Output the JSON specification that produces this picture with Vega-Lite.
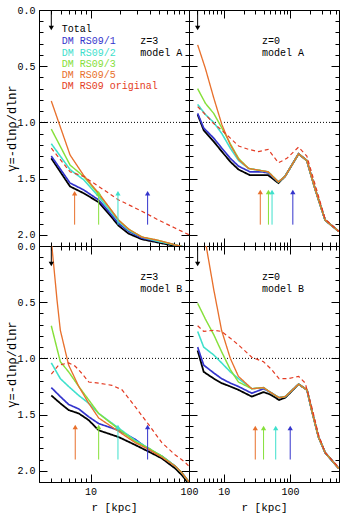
{
  "$schema": "https://vega.github.io/schema/vega-lite/v6.json",
  "background": "white",
  "padding": {"left": 4, "top": 4, "right": 3, "bottom": 5},
  "columns": 2,
  "spacing": 0,
  "bounds": "flush",
  "config": {
    "view": {"stroke": "#000", "strokeWidth": 1},
    "axis": {
      "domain": false, "grid": false, "tickColor": "#000", "tickWidth": 1,
      "labelFont": "Liberation Mono", "labelFontSize": 10, "labelColor": "#000",
      "labelPadding": 12, "labelFlush": false, "labelOverlap": false, "labelBound": false,
      "titleFont": "Liberation Mono", "titleFontSize": 11, "titleFontWeight": "normal", "titleColor": "#000"
    }
  },
  "datasets": {
    "curves": [
      {"panel": "A3", "series": "Total", "r": 4.0, "g": 1.32}, {"panel": "A3", "series": "Total", "r": 6.2, "g": 1.57}, {"panel": "A3", "series": "Total", "r": 8.5, "g": 1.63}, {"panel": "A3", "series": "Total", "r": 12.1, "g": 1.71}, {"panel": "A3", "series": "Total", "r": 15.9, "g": 1.83}, {"panel": "A3", "series": "Total", "r": 19.3, "g": 1.92}, {"panel": "A3", "series": "Total", "r": 24.4, "g": 1.99}, {"panel": "A3", "series": "Total", "r": 33.2, "g": 2.04}, {"panel": "A3", "series": "Total", "r": 49.2, "g": 2.07}, {"panel": "A3", "series": "Total", "r": 72, "g": 2.10}, {"panel": "A3", "series": "Total", "r": 100, "g": 2.13},
      {"panel": "A3", "series": "DM RS09/1", "r": 4.0, "g": 1.30}, {"panel": "A3", "series": "DM RS09/1", "r": 6.2, "g": 1.54}, {"panel": "A3", "series": "DM RS09/1", "r": 8.5, "g": 1.60}, {"panel": "A3", "series": "DM RS09/1", "r": 12.1, "g": 1.69}, {"panel": "A3", "series": "DM RS09/1", "r": 15.9, "g": 1.81}, {"panel": "A3", "series": "DM RS09/1", "r": 19.3, "g": 1.90}, {"panel": "A3", "series": "DM RS09/1", "r": 24.4, "g": 1.97}, {"panel": "A3", "series": "DM RS09/1", "r": 33.2, "g": 2.03}, {"panel": "A3", "series": "DM RS09/1", "r": 49.2, "g": 2.06}, {"panel": "A3", "series": "DM RS09/1", "r": 72, "g": 2.09}, {"panel": "A3", "series": "DM RS09/1", "r": 100, "g": 2.12},
      {"panel": "A3", "series": "DM RS09/2", "r": 4.0, "g": 1.19}, {"panel": "A3", "series": "DM RS09/2", "r": 6.2, "g": 1.42}, {"panel": "A3", "series": "DM RS09/2", "r": 8.5, "g": 1.51}, {"panel": "A3", "series": "DM RS09/2", "r": 12.1, "g": 1.66}, {"panel": "A3", "series": "DM RS09/2", "r": 15.9, "g": 1.79}, {"panel": "A3", "series": "DM RS09/2", "r": 19.3, "g": 1.88}, {"panel": "A3", "series": "DM RS09/2", "r": 24.4, "g": 1.96}, {"panel": "A3", "series": "DM RS09/2", "r": 33.2, "g": 2.02}, {"panel": "A3", "series": "DM RS09/2", "r": 49.2, "g": 2.06}, {"panel": "A3", "series": "DM RS09/2", "r": 72, "g": 2.09}, {"panel": "A3", "series": "DM RS09/2", "r": 100, "g": 2.12},
      {"panel": "A3", "series": "DM RS09/3", "r": 4.0, "g": 1.06}, {"panel": "A3", "series": "DM RS09/3", "r": 6.2, "g": 1.38}, {"panel": "A3", "series": "DM RS09/3", "r": 8.5, "g": 1.48}, {"panel": "A3", "series": "DM RS09/3", "r": 12.1, "g": 1.64}, {"panel": "A3", "series": "DM RS09/3", "r": 15.9, "g": 1.77}, {"panel": "A3", "series": "DM RS09/3", "r": 19.3, "g": 1.87}, {"panel": "A3", "series": "DM RS09/3", "r": 24.4, "g": 1.95}, {"panel": "A3", "series": "DM RS09/3", "r": 33.2, "g": 2.02}, {"panel": "A3", "series": "DM RS09/3", "r": 49.2, "g": 2.05}, {"panel": "A3", "series": "DM RS09/3", "r": 72, "g": 2.09}, {"panel": "A3", "series": "DM RS09/3", "r": 100, "g": 2.12},
      {"panel": "A3", "series": "DM RS09/5", "r": 4.0, "g": 0.81}, {"panel": "A3", "series": "DM RS09/5", "r": 6.2, "g": 1.29}, {"panel": "A3", "series": "DM RS09/5", "r": 8.5, "g": 1.47}, {"panel": "A3", "series": "DM RS09/5", "r": 12.1, "g": 1.63}, {"panel": "A3", "series": "DM RS09/5", "r": 15.9, "g": 1.77}, {"panel": "A3", "series": "DM RS09/5", "r": 19.3, "g": 1.87}, {"panel": "A3", "series": "DM RS09/5", "r": 24.4, "g": 1.95}, {"panel": "A3", "series": "DM RS09/5", "r": 33.2, "g": 2.02}, {"panel": "A3", "series": "DM RS09/5", "r": 49.2, "g": 2.05}, {"panel": "A3", "series": "DM RS09/5", "r": 72, "g": 2.09}, {"panel": "A3", "series": "DM RS09/5", "r": 100, "g": 2.12},
      {"panel": "A3", "series": "DM RS09 original", "r": 4.0, "g": 1.23}, {"panel": "A3", "series": "DM RS09 original", "r": 6.2, "g": 1.44}, {"panel": "A3", "series": "DM RS09 original", "r": 8.5, "g": 1.48}, {"panel": "A3", "series": "DM RS09 original", "r": 12.1, "g": 1.57}, {"panel": "A3", "series": "DM RS09 original", "r": 19.3, "g": 1.69}, {"panel": "A3", "series": "DM RS09 original", "r": 33.2, "g": 1.79}, {"panel": "A3", "series": "DM RS09 original", "r": 49.2, "g": 1.87}, {"panel": "A3", "series": "DM RS09 original", "r": 72, "g": 1.94}, {"panel": "A3", "series": "DM RS09 original", "r": 100, "g": 2.0},

      {"panel": "A0", "series": "Total", "r": 4.05, "g": 0.93}, {"panel": "A0", "series": "Total", "r": 5.0, "g": 1.07}, {"panel": "A0", "series": "Total", "r": 7.07, "g": 1.17}, {"panel": "A0", "series": "Total", "r": 9.4, "g": 1.26}, {"panel": "A0", "series": "Total", "r": 12.6, "g": 1.35}, {"panel": "A0", "series": "Total", "r": 16.8, "g": 1.42}, {"panel": "A0", "series": "Total", "r": 25, "g": 1.47}, {"panel": "A0", "series": "Total", "r": 37.5, "g": 1.47}, {"panel": "A0", "series": "Total", "r": 47, "g": 1.47}, {"panel": "A0", "series": "Total", "r": 67, "g": 1.54}, {"panel": "A0", "series": "Total", "r": 84.5, "g": 1.48}, {"panel": "A0", "series": "Total", "r": 135, "g": 1.28}, {"panel": "A0", "series": "Total", "r": 180, "g": 1.34}, {"panel": "A0", "series": "Total", "r": 239, "g": 1.59}, {"panel": "A0", "series": "Total", "r": 340, "g": 1.87}, {"panel": "A0", "series": "Total", "r": 546, "g": 1.97},
      {"panel": "A0", "series": "DM RS09/1", "r": 4.05, "g": 0.92}, {"panel": "A0", "series": "DM RS09/1", "r": 5.0, "g": 1.05}, {"panel": "A0", "series": "DM RS09/1", "r": 7.07, "g": 1.14}, {"panel": "A0", "series": "DM RS09/1", "r": 9.4, "g": 1.23}, {"panel": "A0", "series": "DM RS09/1", "r": 12.6, "g": 1.32}, {"panel": "A0", "series": "DM RS09/1", "r": 16.8, "g": 1.39}, {"panel": "A0", "series": "DM RS09/1", "r": 25, "g": 1.44}, {"panel": "A0", "series": "DM RS09/1", "r": 37.5, "g": 1.44}, {"panel": "A0", "series": "DM RS09/1", "r": 47, "g": 1.45}, {"panel": "A0", "series": "DM RS09/1", "r": 67, "g": 1.53}, {"panel": "A0", "series": "DM RS09/1", "r": 84.5, "g": 1.48}, {"panel": "A0", "series": "DM RS09/1", "r": 135, "g": 1.28}, {"panel": "A0", "series": "DM RS09/1", "r": 180, "g": 1.34}, {"panel": "A0", "series": "DM RS09/1", "r": 239, "g": 1.59}, {"panel": "A0", "series": "DM RS09/1", "r": 340, "g": 1.87}, {"panel": "A0", "series": "DM RS09/1", "r": 546, "g": 1.97},
      {"panel": "A0", "series": "DM RS09/2", "r": 4.05, "g": 0.84}, {"panel": "A0", "series": "DM RS09/2", "r": 5.3, "g": 0.93}, {"panel": "A0", "series": "DM RS09/2", "r": 7.07, "g": 1.00}, {"panel": "A0", "series": "DM RS09/2", "r": 9.4, "g": 1.10}, {"panel": "A0", "series": "DM RS09/2", "r": 12.6, "g": 1.23}, {"panel": "A0", "series": "DM RS09/2", "r": 16.8, "g": 1.34}, {"panel": "A0", "series": "DM RS09/2", "r": 23.8, "g": 1.41}, {"panel": "A0", "series": "DM RS09/2", "r": 37.5, "g": 1.43}, {"panel": "A0", "series": "DM RS09/2", "r": 47, "g": 1.44}, {"panel": "A0", "series": "DM RS09/2", "r": 67, "g": 1.53}, {"panel": "A0", "series": "DM RS09/2", "r": 84.5, "g": 1.48}, {"panel": "A0", "series": "DM RS09/2", "r": 135, "g": 1.28}, {"panel": "A0", "series": "DM RS09/2", "r": 180, "g": 1.34}, {"panel": "A0", "series": "DM RS09/2", "r": 239, "g": 1.59}, {"panel": "A0", "series": "DM RS09/2", "r": 340, "g": 1.87}, {"panel": "A0", "series": "DM RS09/2", "r": 546, "g": 1.97},
      {"panel": "A0", "series": "DM RS09/3", "r": 4.05, "g": 0.70}, {"panel": "A0", "series": "DM RS09/3", "r": 5.3, "g": 0.83}, {"panel": "A0", "series": "DM RS09/3", "r": 7.07, "g": 0.92}, {"panel": "A0", "series": "DM RS09/3", "r": 9.4, "g": 1.05}, {"panel": "A0", "series": "DM RS09/3", "r": 12.6, "g": 1.19}, {"panel": "A0", "series": "DM RS09/3", "r": 16.8, "g": 1.32}, {"panel": "A0", "series": "DM RS09/3", "r": 23.8, "g": 1.41}, {"panel": "A0", "series": "DM RS09/3", "r": 37.5, "g": 1.43}, {"panel": "A0", "series": "DM RS09/3", "r": 47, "g": 1.44}, {"panel": "A0", "series": "DM RS09/3", "r": 67, "g": 1.53}, {"panel": "A0", "series": "DM RS09/3", "r": 84.5, "g": 1.48}, {"panel": "A0", "series": "DM RS09/3", "r": 135, "g": 1.28}, {"panel": "A0", "series": "DM RS09/3", "r": 180, "g": 1.34}, {"panel": "A0", "series": "DM RS09/3", "r": 239, "g": 1.59}, {"panel": "A0", "series": "DM RS09/3", "r": 340, "g": 1.87}, {"panel": "A0", "series": "DM RS09/3", "r": 546, "g": 1.97},
      {"panel": "A0", "series": "DM RS09/5", "r": 4.05, "g": 0.31}, {"panel": "A0", "series": "DM RS09/5", "r": 5.3, "g": 0.52}, {"panel": "A0", "series": "DM RS09/5", "r": 7.07, "g": 0.78}, {"panel": "A0", "series": "DM RS09/5", "r": 9.4, "g": 1.02}, {"panel": "A0", "series": "DM RS09/5", "r": 12.6, "g": 1.20}, {"panel": "A0", "series": "DM RS09/5", "r": 16.8, "g": 1.33}, {"panel": "A0", "series": "DM RS09/5", "r": 23.8, "g": 1.41}, {"panel": "A0", "series": "DM RS09/5", "r": 37.5, "g": 1.43}, {"panel": "A0", "series": "DM RS09/5", "r": 47, "g": 1.44}, {"panel": "A0", "series": "DM RS09/5", "r": 67, "g": 1.53}, {"panel": "A0", "series": "DM RS09/5", "r": 84.5, "g": 1.48}, {"panel": "A0", "series": "DM RS09/5", "r": 135, "g": 1.28}, {"panel": "A0", "series": "DM RS09/5", "r": 180, "g": 1.34}, {"panel": "A0", "series": "DM RS09/5", "r": 239, "g": 1.59}, {"panel": "A0", "series": "DM RS09/5", "r": 340, "g": 1.87}, {"panel": "A0", "series": "DM RS09/5", "r": 546, "g": 1.97},
      {"panel": "A0", "series": "DM RS09 original", "r": 4.05, "g": 0.86}, {"panel": "A0", "series": "DM RS09 original", "r": 5.3, "g": 0.93}, {"panel": "A0", "series": "DM RS09 original", "r": 7.07, "g": 1.01}, {"panel": "A0", "series": "DM RS09 original", "r": 9.4, "g": 1.07}, {"panel": "A0", "series": "DM RS09 original", "r": 12.6, "g": 1.14}, {"panel": "A0", "series": "DM RS09 original", "r": 16.8, "g": 1.21}, {"panel": "A0", "series": "DM RS09 original", "r": 23.8, "g": 1.24}, {"panel": "A0", "series": "DM RS09 original", "r": 33.7, "g": 1.26}, {"panel": "A0", "series": "DM RS09 original", "r": 47, "g": 1.24}, {"panel": "A0", "series": "DM RS09 original", "r": 67, "g": 1.36}, {"panel": "A0", "series": "DM RS09 original", "r": 90, "g": 1.32}, {"panel": "A0", "series": "DM RS09 original", "r": 135, "g": 1.22}, {"panel": "A0", "series": "DM RS09 original", "r": 180, "g": 1.30}, {"panel": "A0", "series": "DM RS09 original", "r": 239, "g": 1.55}, {"panel": "A0", "series": "DM RS09 original", "r": 340, "g": 1.86}, {"panel": "A0", "series": "DM RS09 original", "r": 546, "g": 1.97},

      {"panel": "B3", "series": "Total", "r": 4.0, "g": 1.33}, {"panel": "B3", "series": "Total", "r": 4.94, "g": 1.40}, {"panel": "B3", "series": "Total", "r": 6.0, "g": 1.46}, {"panel": "B3", "series": "Total", "r": 7.6, "g": 1.49}, {"panel": "B3", "series": "Total", "r": 9.6, "g": 1.55}, {"panel": "B3", "series": "Total", "r": 12.1, "g": 1.64}, {"panel": "B3", "series": "Total", "r": 19.3, "g": 1.70}, {"panel": "B3", "series": "Total", "r": 28.4, "g": 1.77}, {"panel": "B3", "series": "Total", "r": 39, "g": 1.83}, {"panel": "B3", "series": "Total", "r": 53, "g": 1.89}, {"panel": "B3", "series": "Total", "r": 72.6, "g": 1.98}, {"panel": "B3", "series": "Total", "r": 85, "g": 2.04}, {"panel": "B3", "series": "Total", "r": 100, "g": 2.12},
      {"panel": "B3", "series": "DM RS09/1", "r": 4.0, "g": 1.26}, {"panel": "B3", "series": "DM RS09/1", "r": 4.94, "g": 1.34}, {"panel": "B3", "series": "DM RS09/1", "r": 6.0, "g": 1.41}, {"panel": "B3", "series": "DM RS09/1", "r": 7.6, "g": 1.45}, {"panel": "B3", "series": "DM RS09/1", "r": 9.6, "g": 1.52}, {"panel": "B3", "series": "DM RS09/1", "r": 12.1, "g": 1.58}, {"panel": "B3", "series": "DM RS09/1", "r": 19.3, "g": 1.64}, {"panel": "B3", "series": "DM RS09/1", "r": 28.4, "g": 1.72}, {"panel": "B3", "series": "DM RS09/1", "r": 39, "g": 1.81}, {"panel": "B3", "series": "DM RS09/1", "r": 53, "g": 1.87}, {"panel": "B3", "series": "DM RS09/1", "r": 72.6, "g": 1.96}, {"panel": "B3", "series": "DM RS09/1", "r": 85, "g": 2.02}, {"panel": "B3", "series": "DM RS09/1", "r": 100, "g": 2.10},
      {"panel": "B3", "series": "DM RS09/2", "r": 4.0, "g": 1.04}, {"panel": "B3", "series": "DM RS09/2", "r": 4.94, "g": 1.18}, {"panel": "B3", "series": "DM RS09/2", "r": 6.0, "g": 1.25}, {"panel": "B3", "series": "DM RS09/2", "r": 7.6, "g": 1.33}, {"panel": "B3", "series": "DM RS09/2", "r": 9.6, "g": 1.40}, {"panel": "B3", "series": "DM RS09/2", "r": 12.1, "g": 1.49}, {"panel": "B3", "series": "DM RS09/2", "r": 19.3, "g": 1.62}, {"panel": "B3", "series": "DM RS09/2", "r": 28.4, "g": 1.73}, {"panel": "B3", "series": "DM RS09/2", "r": 39, "g": 1.80}, {"panel": "B3", "series": "DM RS09/2", "r": 53, "g": 1.87}, {"panel": "B3", "series": "DM RS09/2", "r": 72.6, "g": 1.96}, {"panel": "B3", "series": "DM RS09/2", "r": 85, "g": 2.02}, {"panel": "B3", "series": "DM RS09/2", "r": 100, "g": 2.10},
      {"panel": "B3", "series": "DM RS09/3", "r": 4.0, "g": 0.71}, {"panel": "B3", "series": "DM RS09/3", "r": 4.94, "g": 1.03}, {"panel": "B3", "series": "DM RS09/3", "r": 6.0, "g": 1.12}, {"panel": "B3", "series": "DM RS09/3", "r": 7.6, "g": 1.25}, {"panel": "B3", "series": "DM RS09/3", "r": 9.6, "g": 1.37}, {"panel": "B3", "series": "DM RS09/3", "r": 12.1, "g": 1.49}, {"panel": "B3", "series": "DM RS09/3", "r": 19.3, "g": 1.63}, {"panel": "B3", "series": "DM RS09/3", "r": 28.4, "g": 1.74}, {"panel": "B3", "series": "DM RS09/3", "r": 39, "g": 1.80}, {"panel": "B3", "series": "DM RS09/3", "r": 53, "g": 1.87}, {"panel": "B3", "series": "DM RS09/3", "r": 72.6, "g": 1.96}, {"panel": "B3", "series": "DM RS09/3", "r": 85, "g": 2.02}, {"panel": "B3", "series": "DM RS09/3", "r": 100, "g": 2.10},
      {"panel": "B3", "series": "DM RS09/5", "r": 4.0, "g": -0.05}, {"panel": "B3", "series": "DM RS09/5", "r": 4.37, "g": 0.30}, {"panel": "B3", "series": "DM RS09/5", "r": 4.57, "g": 0.48}, {"panel": "B3", "series": "DM RS09/5", "r": 4.94, "g": 0.75}, {"panel": "B3", "series": "DM RS09/5", "r": 6.0, "g": 1.06}, {"panel": "B3", "series": "DM RS09/5", "r": 7.6, "g": 1.25}, {"panel": "B3", "series": "DM RS09/5", "r": 9.6, "g": 1.40}, {"panel": "B3", "series": "DM RS09/5", "r": 12.1, "g": 1.53}, {"panel": "B3", "series": "DM RS09/5", "r": 19.3, "g": 1.65}, {"panel": "B3", "series": "DM RS09/5", "r": 28.4, "g": 1.75}, {"panel": "B3", "series": "DM RS09/5", "r": 39, "g": 1.81}, {"panel": "B3", "series": "DM RS09/5", "r": 53, "g": 1.88}, {"panel": "B3", "series": "DM RS09/5", "r": 72.6, "g": 1.96}, {"panel": "B3", "series": "DM RS09/5", "r": 85, "g": 2.02}, {"panel": "B3", "series": "DM RS09/5", "r": 100, "g": 2.10},
      {"panel": "B3", "series": "DM RS09 original", "r": 4.0, "g": 1.14}, {"panel": "B3", "series": "DM RS09 original", "r": 4.74, "g": 1.06}, {"panel": "B3", "series": "DM RS09 original", "r": 6.0, "g": 1.04}, {"panel": "B3", "series": "DM RS09 original", "r": 7.0, "g": 1.07}, {"panel": "B3", "series": "DM RS09 original", "r": 8.1, "g": 1.13}, {"panel": "B3", "series": "DM RS09 original", "r": 9.6, "g": 1.21}, {"panel": "B3", "series": "DM RS09 original", "r": 12.1, "g": 1.22}, {"panel": "B3", "series": "DM RS09 original", "r": 16.5, "g": 1.24}, {"panel": "B3", "series": "DM RS09 original", "r": 20.9, "g": 1.28}, {"panel": "B3", "series": "DM RS09 original", "r": 28.4, "g": 1.43}, {"panel": "B3", "series": "DM RS09 original", "r": 39, "g": 1.59}, {"panel": "B3", "series": "DM RS09 original", "r": 53, "g": 1.75}, {"panel": "B3", "series": "DM RS09 original", "r": 72.6, "g": 1.86}, {"panel": "B3", "series": "DM RS09 original", "r": 90, "g": 1.92}, {"panel": "B3", "series": "DM RS09 original", "r": 100, "g": 1.96},

      {"panel": "B0", "series": "Total", "r": 4.05, "g": 0.93}, {"panel": "B0", "series": "Total", "r": 5.0, "g": 1.12}, {"panel": "B0", "series": "Total", "r": 7.1, "g": 1.18}, {"panel": "B0", "series": "Total", "r": 9.3, "g": 1.22}, {"panel": "B0", "series": "Total", "r": 12.6, "g": 1.25}, {"panel": "B0", "series": "Total", "r": 16.7, "g": 1.28}, {"panel": "B0", "series": "Total", "r": 26.6, "g": 1.34}, {"panel": "B0", "series": "Total", "r": 40, "g": 1.30}, {"panel": "B0", "series": "Total", "r": 50, "g": 1.32}, {"panel": "B0", "series": "Total", "r": 68.6, "g": 1.37}, {"panel": "B0", "series": "Total", "r": 85, "g": 1.35}, {"panel": "B0", "series": "Total", "r": 135, "g": 1.23}, {"panel": "B0", "series": "Total", "r": 181, "g": 1.28}, {"panel": "B0", "series": "Total", "r": 213, "g": 1.46}, {"panel": "B0", "series": "Total", "r": 270, "g": 1.70}, {"panel": "B0", "series": "Total", "r": 341, "g": 1.84}, {"panel": "B0", "series": "Total", "r": 546, "g": 1.98},
      {"panel": "B0", "series": "DM RS09/1", "r": 4.05, "g": 0.90}, {"panel": "B0", "series": "DM RS09/1", "r": 5.0, "g": 1.06}, {"panel": "B0", "series": "DM RS09/1", "r": 7.1, "g": 1.13}, {"panel": "B0", "series": "DM RS09/1", "r": 9.3, "g": 1.18}, {"panel": "B0", "series": "DM RS09/1", "r": 12.6, "g": 1.22}, {"panel": "B0", "series": "DM RS09/1", "r": 16.7, "g": 1.25}, {"panel": "B0", "series": "DM RS09/1", "r": 26.6, "g": 1.31}, {"panel": "B0", "series": "DM RS09/1", "r": 40, "g": 1.27}, {"panel": "B0", "series": "DM RS09/1", "r": 50, "g": 1.30}, {"panel": "B0", "series": "DM RS09/1", "r": 68.6, "g": 1.35}, {"panel": "B0", "series": "DM RS09/1", "r": 85, "g": 1.34}, {"panel": "B0", "series": "DM RS09/1", "r": 135, "g": 1.23}, {"panel": "B0", "series": "DM RS09/1", "r": 181, "g": 1.28}, {"panel": "B0", "series": "DM RS09/1", "r": 213, "g": 1.46}, {"panel": "B0", "series": "DM RS09/1", "r": 270, "g": 1.70}, {"panel": "B0", "series": "DM RS09/1", "r": 341, "g": 1.84}, {"panel": "B0", "series": "DM RS09/1", "r": 546, "g": 1.98},
      {"panel": "B0", "series": "DM RS09/2", "r": 4.05, "g": 0.76}, {"panel": "B0", "series": "DM RS09/2", "r": 5.0, "g": 0.90}, {"panel": "B0", "series": "DM RS09/2", "r": 7.1, "g": 0.97}, {"panel": "B0", "series": "DM RS09/2", "r": 9.3, "g": 1.04}, {"panel": "B0", "series": "DM RS09/2", "r": 12.6, "g": 1.12}, {"panel": "B0", "series": "DM RS09/2", "r": 16.7, "g": 1.18}, {"panel": "B0", "series": "DM RS09/2", "r": 26.6, "g": 1.27}, {"panel": "B0", "series": "DM RS09/2", "r": 40, "g": 1.26}, {"panel": "B0", "series": "DM RS09/2", "r": 50, "g": 1.30}, {"panel": "B0", "series": "DM RS09/2", "r": 68.6, "g": 1.35}, {"panel": "B0", "series": "DM RS09/2", "r": 85, "g": 1.34}, {"panel": "B0", "series": "DM RS09/2", "r": 135, "g": 1.23}, {"panel": "B0", "series": "DM RS09/2", "r": 181, "g": 1.28}, {"panel": "B0", "series": "DM RS09/2", "r": 213, "g": 1.46}, {"panel": "B0", "series": "DM RS09/2", "r": 270, "g": 1.70}, {"panel": "B0", "series": "DM RS09/2", "r": 341, "g": 1.84}, {"panel": "B0", "series": "DM RS09/2", "r": 546, "g": 1.98},
      {"panel": "B0", "series": "DM RS09/3", "r": 4.05, "g": 0.51}, {"panel": "B0", "series": "DM RS09/3", "r": 5.3, "g": 0.65}, {"panel": "B0", "series": "DM RS09/3", "r": 7.1, "g": 0.79}, {"panel": "B0", "series": "DM RS09/3", "r": 9.3, "g": 0.94}, {"panel": "B0", "series": "DM RS09/3", "r": 12.6, "g": 1.10}, {"panel": "B0", "series": "DM RS09/3", "r": 16.7, "g": 1.21}, {"panel": "B0", "series": "DM RS09/3", "r": 26.6, "g": 1.27}, {"panel": "B0", "series": "DM RS09/3", "r": 40, "g": 1.26}, {"panel": "B0", "series": "DM RS09/3", "r": 50, "g": 1.30}, {"panel": "B0", "series": "DM RS09/3", "r": 68.6, "g": 1.35}, {"panel": "B0", "series": "DM RS09/3", "r": 85, "g": 1.34}, {"panel": "B0", "series": "DM RS09/3", "r": 135, "g": 1.23}, {"panel": "B0", "series": "DM RS09/3", "r": 181, "g": 1.28}, {"panel": "B0", "series": "DM RS09/3", "r": 213, "g": 1.46}, {"panel": "B0", "series": "DM RS09/3", "r": 270, "g": 1.70}, {"panel": "B0", "series": "DM RS09/3", "r": 341, "g": 1.84}, {"panel": "B0", "series": "DM RS09/3", "r": 546, "g": 1.98},
      {"panel": "B0", "series": "DM RS09/5", "r": 4.05, "g": -0.45}, {"panel": "B0", "series": "DM RS09/5", "r": 5.6, "g": 0.04}, {"panel": "B0", "series": "DM RS09/5", "r": 7.1, "g": 0.39}, {"panel": "B0", "series": "DM RS09/5", "r": 9.3, "g": 0.75}, {"panel": "B0", "series": "DM RS09/5", "r": 12.6, "g": 1.0}, {"panel": "B0", "series": "DM RS09/5", "r": 16.7, "g": 1.16}, {"panel": "B0", "series": "DM RS09/5", "r": 26.6, "g": 1.27}, {"panel": "B0", "series": "DM RS09/5", "r": 40, "g": 1.26}, {"panel": "B0", "series": "DM RS09/5", "r": 50, "g": 1.30}, {"panel": "B0", "series": "DM RS09/5", "r": 68.6, "g": 1.35}, {"panel": "B0", "series": "DM RS09/5", "r": 85, "g": 1.34}, {"panel": "B0", "series": "DM RS09/5", "r": 135, "g": 1.23}, {"panel": "B0", "series": "DM RS09/5", "r": 181, "g": 1.28}, {"panel": "B0", "series": "DM RS09/5", "r": 213, "g": 1.46}, {"panel": "B0", "series": "DM RS09/5", "r": 270, "g": 1.70}, {"panel": "B0", "series": "DM RS09/5", "r": 341, "g": 1.84}, {"panel": "B0", "series": "DM RS09/5", "r": 546, "g": 1.98},
      {"panel": "B0", "series": "DM RS09 original", "r": 4.05, "g": 0.71}, {"panel": "B0", "series": "DM RS09 original", "r": 5.0, "g": 0.76}, {"panel": "B0", "series": "DM RS09 original", "r": 7.1, "g": 0.75}, {"panel": "B0", "series": "DM RS09 original", "r": 9.3, "g": 0.76}, {"panel": "B0", "series": "DM RS09 original", "r": 12.6, "g": 0.82}, {"panel": "B0", "series": "DM RS09 original", "r": 16.7, "g": 0.88}, {"panel": "B0", "series": "DM RS09 original", "r": 26.6, "g": 0.99}, {"panel": "B0", "series": "DM RS09 original", "r": 40, "g": 1.03}, {"panel": "B0", "series": "DM RS09 original", "r": 53, "g": 1.10}, {"panel": "B0", "series": "DM RS09 original", "r": 68.6, "g": 1.18}, {"panel": "B0", "series": "DM RS09 original", "r": 95, "g": 1.18}, {"panel": "B0", "series": "DM RS09 original", "r": 135, "g": 1.16}, {"panel": "B0", "series": "DM RS09 original", "r": 170, "g": 1.22}, {"panel": "B0", "series": "DM RS09 original", "r": 213, "g": 1.43}, {"panel": "B0", "series": "DM RS09 original", "r": 270, "g": 1.68}, {"panel": "B0", "series": "DM RS09 original", "r": 341, "g": 1.84}, {"panel": "B0", "series": "DM RS09 original", "r": 546, "g": 1.97}
    ],
    "arrows": [
      {"panel": "A3", "series": "Total", "r": 4.0, "g1": 0, "g2": 0.16, "head": "down"},
      {"panel": "A3", "series": "DM RS09/5", "r": 6.9, "g1": 1.91, "g2": 1.63, "head": "up"},
      {"panel": "A3", "series": "DM RS09/3", "r": 12.1, "g1": 1.91, "g2": 1.63, "head": "up"},
      {"panel": "A3", "series": "DM RS09/2", "r": 19.0, "g1": 1.91, "g2": 1.63, "head": "up"},
      {"panel": "A3", "series": "DM RS09/1", "r": 38, "g1": 1.91, "g2": 1.63, "head": "up"},
      {"panel": "A0", "series": "Total", "r": 4.05, "g1": 0, "g2": 0.16, "head": "down"},
      {"panel": "A0", "series": "DM RS09/5", "r": 35.7, "g1": 1.91, "g2": 1.62, "head": "up"},
      {"panel": "A0", "series": "DM RS09/3", "r": 47.4, "g1": 1.91, "g2": 1.62, "head": "up"},
      {"panel": "A0", "series": "DM RS09/2", "r": 53.7, "g1": 1.91, "g2": 1.62, "head": "up"},
      {"panel": "A0", "series": "DM RS09/1", "r": 110.6, "g1": 1.91, "g2": 1.62, "head": "up"},
      {"panel": "B3", "series": "Total", "r": 4.0, "g1": 0, "g2": 0.16, "head": "down"},
      {"panel": "B3", "series": "DM RS09/5", "r": 7.0, "g1": 1.90, "g2": 1.61, "head": "up"},
      {"panel": "B3", "series": "DM RS09/3", "r": 12.1, "g1": 1.90, "g2": 1.61, "head": "up"},
      {"panel": "B3", "series": "DM RS09/2", "r": 19.0, "g1": 1.90, "g2": 1.61, "head": "up"},
      {"panel": "B3", "series": "DM RS09/1", "r": 38, "g1": 1.90, "g2": 1.61, "head": "up"},
      {"panel": "B0", "series": "Total", "r": 4.05, "g1": 0, "g2": 0.16, "head": "down"},
      {"panel": "B0", "series": "DM RS09/5", "r": 30, "g1": 1.90, "g2": 1.62, "head": "up"},
      {"panel": "B0", "series": "DM RS09/3", "r": 40, "g1": 1.90, "g2": 1.62, "head": "up"},
      {"panel": "B0", "series": "DM RS09/2", "r": 61, "g1": 1.90, "g2": 1.62, "head": "up"},
      {"panel": "B0", "series": "DM RS09/1", "r": 101, "g1": 1.90, "g2": 1.62, "head": "up"}
    ],
    "legend": [
      {"series": "Total", "g": 0.17},
      {"series": "DM RS09/1", "g": 0.277},
      {"series": "DM RS09/2", "g": 0.381},
      {"series": "DM RS09/3", "g": 0.479},
      {"series": "DM RS09/5", "g": 0.58},
      {"series": "DM RS09 original", "g": 0.68}
    ],
    "notes": [
      {"panel": "A3", "text": "z=3", "r": 32, "g": 0.277},
      {"panel": "A3", "text": "model A", "r": 32, "g": 0.381},
      {"panel": "A0", "text": "z=0", "r": 37.8, "g": 0.277},
      {"panel": "A0", "text": "model A", "r": 37.8, "g": 0.381},
      {"panel": "B3", "text": "z=3", "r": 32, "g": 0.277},
      {"panel": "B3", "text": "model B", "r": 32, "g": 0.381},
      {"panel": "B0", "text": "z=0", "r": 37.8, "g": 0.277},
      {"panel": "B0", "text": "model B", "r": 37.8, "g": 0.381}
    ]
  },
  "concat": [
    {
      "width": 150, "height": 236,
      "resolve": {"axis": {"x": "independent", "y": "independent"}},
      "layer": [
        {"data": {"values": [{}]}, "mark": {"type": "rule", "strokeDash": [1, 2], "color": "#000", "strokeWidth": 1},
         "encoding": {"y": {"datum": 1, "type": "quantitative", "scale": {"domain": [0, 2.1], "reverse": true, "nice": false, "zero": false}, "axis": null}}},
        {"data": {"name": "curves"}, "transform": [{"filter": "datum.panel == 'A3'"}],
         "mark": {"type": "line", "clip": true},
         "encoding": {
           "x": {"field": "r", "type": "quantitative", "scale": {"type": "log", "domain": [3, 100], "nice": false},
                 "axis": {"orient": "bottom", "values": [3,4,5,6,7,8,9,10,20,30,40,50,60,70,80,90,100], "tickSize": {"condition": {"test": "datum.value == 10 || datum.value == 100", "value": -8}, "value": -4}, "labels": false, "title": null}},
           "y": {"field": "g", "type": "quantitative", "scale": {"domain": [0, 2.1], "reverse": true, "nice": false, "zero": false},
                 "axis": {"orient": "left", "values": [0,0.1,0.2,0.3,0.4,0.5,0.6,0.7,0.8,0.9,1,1.1,1.2,1.3,1.4,1.5,1.6,1.7,1.8,1.9,2,2.1], "tickSize": {"condition": {"test": "abs(datum.value*2 - round(datum.value*2)) < 0.001", "value": -8}, "value": -4}, "labelExpr": "abs(datum.value*2 - round(datum.value*2)) < 0.001 ? format(datum.value, '.1f') : ''", "title": "γ=-dlnρ/dlnr", "titleFontSize": 12, "titleX": -28, "titleY": 118, "titleBaseline": "middle", "titleAlign": "center", "titleAngle": 270}},
           "color": {"field": "series", "type": "nominal", "scale": {"domain": ["Total","DM RS09/1","DM RS09/2","DM RS09/3","DM RS09/5","DM RS09 original"], "range": ["#000000","#3434cc","#3ee0cc","#86e03a","#e8702c","#e43c24"]}, "legend": null},
           "strokeDash": {"field": "series", "type": "nominal", "scale": {"domain": ["Total","DM RS09/1","DM RS09/2","DM RS09/3","DM RS09/5","DM RS09 original"], "range": [[1,0],[1,0],[1,0],[1,0],[1,0],[4,3]]}, "legend": null},
           "strokeWidth": {"field": "series", "type": "nominal", "scale": {"domain": ["Total","DM RS09/1","DM RS09/2","DM RS09/3","DM RS09/5","DM RS09 original"], "range": [1.8,1.2,1.2,1.2,1.2,1.3]}, "legend": null}
         }},
        {"data": {"name": "arrows"}, "transform": [{"filter": "datum.panel == 'A3'"}],
         "mark": {"type": "rule", "strokeWidth": 1},
         "encoding": {
           "x": {"field": "r", "type": "quantitative", "scale": {"type": "log", "domain": [3, 100], "nice": false},
                 "axis": {"orient": "top", "values": [3,4,5,6,7,8,9,10,20,30,40,50,60,70,80,90,100], "tickSize": {"condition": {"test": "datum.value == 10 || datum.value == 100", "value": -8}, "value": -4}, "labels": false, "title": null}},
           "y": {"field": "g1", "type": "quantitative", "scale": {"domain": [0, 2.1], "reverse": true, "nice": false, "zero": false},
                 "axis": {"orient": "right", "values": [0,0.1,0.2,0.3,0.4,0.5,0.6,0.7,0.8,0.9,1,1.1,1.2,1.3,1.4,1.5,1.6,1.7,1.8,1.9,2,2.1], "tickSize": {"condition": {"test": "abs(datum.value*2 - round(datum.value*2)) < 0.001", "value": -8}, "value": -4}, "labels": false, "title": null}},
           "y2": {"field": "g2"},
           "color": {"field": "series", "type": "nominal", "legend": null}
         }},
        {"data": {"name": "arrows"}, "transform": [{"filter": "datum.panel == 'A3'"}],
         "mark": {"type": "point", "filled": true, "size": 28, "opacity": 1},
         "encoding": {
           "x": {"field": "r", "type": "quantitative", "axis": null},
           "y": {"field": "g2", "type": "quantitative", "axis": null},
           "shape": {"field": "head", "type": "nominal", "scale": {"domain": ["up", "down"], "range": ["triangle-up", "triangle-down"]}, "legend": null},
           "color": {"field": "series", "type": "nominal", "legend": null}
         }},
        {"data": {"name": "legend"},
         "mark": {"type": "text", "align": "left", "baseline": "middle", "font": "Liberation Mono", "fontSize": 10},
         "encoding": {
           "x": {"datum": 5.1, "type": "quantitative", "axis": null},
           "y": {"field": "g", "type": "quantitative", "axis": null},
           "text": {"field": "series"},
           "color": {"field": "series", "type": "nominal", "legend": null}
         }},
        {"data": {"name": "notes"}, "transform": [{"filter": "datum.panel == 'A3'"}],
         "mark": {"type": "text", "align": "left", "baseline": "middle", "font": "Liberation Mono", "fontSize": 10, "color": "#000"},
         "encoding": {
           "x": {"field": "r", "type": "quantitative", "axis": null},
           "y": {"field": "g", "type": "quantitative", "axis": null},
           "text": {"field": "text"}
         }}
      ]
    },
    {
      "width": 150, "height": 236,
      "resolve": {"axis": {"x": "independent", "y": "independent"}},
      "layer": [
        {"data": {"values": [{}]}, "mark": {"type": "rule", "strokeDash": [1, 2], "color": "#000", "strokeWidth": 1},
         "encoding": {"y": {"datum": 1, "type": "quantitative", "scale": {"domain": [0, 2.1], "reverse": true, "nice": false, "zero": false}, "axis": null}}},
        {"data": {"name": "curves"}, "transform": [{"filter": "datum.panel == 'A0'"}],
         "mark": {"type": "line", "clip": true},
         "encoding": {
           "x": {"field": "r", "type": "quantitative", "scale": {"type": "log", "domain": [3, 550], "nice": false},
                 "axis": {"orient": "bottom", "values": [3,4,5,6,7,8,9,10,20,30,40,50,60,70,80,90,100,200,300,400,500], "tickSize": {"condition": {"test": "datum.value == 10 || datum.value == 100", "value": -8}, "value": -4}, "labels": false, "title": null}},
           "y": {"field": "g", "type": "quantitative", "scale": {"domain": [0, 2.1], "reverse": true, "nice": false, "zero": false},
                 "axis": {"orient": "left", "values": [0,0.1,0.2,0.3,0.4,0.5,0.6,0.7,0.8,0.9,1,1.1,1.2,1.3,1.4,1.5,1.6,1.7,1.8,1.9,2,2.1], "tickSize": {"condition": {"test": "abs(datum.value*2 - round(datum.value*2)) < 0.001", "value": -8}, "value": -4}, "labels": false, "title": null}},
           "color": {"field": "series", "type": "nominal", "scale": {"domain": ["Total","DM RS09/1","DM RS09/2","DM RS09/3","DM RS09/5","DM RS09 original"], "range": ["#000000","#3434cc","#3ee0cc","#86e03a","#e8702c","#e43c24"]}, "legend": null},
           "strokeDash": {"field": "series", "type": "nominal", "scale": {"domain": ["Total","DM RS09/1","DM RS09/2","DM RS09/3","DM RS09/5","DM RS09 original"], "range": [[1,0],[1,0],[1,0],[1,0],[1,0],[4,3]]}, "legend": null},
           "strokeWidth": {"field": "series", "type": "nominal", "scale": {"domain": ["Total","DM RS09/1","DM RS09/2","DM RS09/3","DM RS09/5","DM RS09 original"], "range": [1.8,1.2,1.2,1.2,1.2,1.3]}, "legend": null}
         }},
        {"data": {"name": "arrows"}, "transform": [{"filter": "datum.panel == 'A0'"}],
         "mark": {"type": "rule", "strokeWidth": 1},
         "encoding": {
           "x": {"field": "r", "type": "quantitative", "scale": {"type": "log", "domain": [3, 550], "nice": false},
                 "axis": {"orient": "top", "values": [3,4,5,6,7,8,9,10,20,30,40,50,60,70,80,90,100,200,300,400,500], "tickSize": {"condition": {"test": "datum.value == 10 || datum.value == 100", "value": -8}, "value": -4}, "labels": false, "title": null}},
           "y": {"field": "g1", "type": "quantitative", "scale": {"domain": [0, 2.1], "reverse": true, "nice": false, "zero": false},
                 "axis": {"orient": "right", "values": [0,0.1,0.2,0.3,0.4,0.5,0.6,0.7,0.8,0.9,1,1.1,1.2,1.3,1.4,1.5,1.6,1.7,1.8,1.9,2,2.1], "tickSize": {"condition": {"test": "abs(datum.value*2 - round(datum.value*2)) < 0.001", "value": -8}, "value": -4}, "labels": false, "title": null}},
           "y2": {"field": "g2"},
           "color": {"field": "series", "type": "nominal", "legend": null}
         }},
        {"data": {"name": "arrows"}, "transform": [{"filter": "datum.panel == 'A0'"}],
         "mark": {"type": "point", "filled": true, "size": 28, "opacity": 1},
         "encoding": {
           "x": {"field": "r", "type": "quantitative", "axis": null},
           "y": {"field": "g2", "type": "quantitative", "axis": null},
           "shape": {"field": "head", "type": "nominal", "scale": {"domain": ["up", "down"], "range": ["triangle-up", "triangle-down"]}, "legend": null},
           "color": {"field": "series", "type": "nominal", "legend": null}
         }},
        {"data": {"name": "notes"}, "transform": [{"filter": "datum.panel == 'A0'"}],
         "mark": {"type": "text", "align": "left", "baseline": "middle", "font": "Liberation Mono", "fontSize": 10, "color": "#000"},
         "encoding": {
           "x": {"field": "r", "type": "quantitative", "axis": null},
           "y": {"field": "g", "type": "quantitative", "axis": null},
           "text": {"field": "text"}
         }}
      ]
    },
    {
      "width": 150, "height": 236,
      "resolve": {"axis": {"x": "independent", "y": "independent"}},
      "layer": [
        {"data": {"values": [{}]}, "mark": {"type": "rule", "strokeDash": [1, 2], "color": "#000", "strokeWidth": 1},
         "encoding": {"y": {"datum": 1, "type": "quantitative", "scale": {"domain": [0, 2.1], "reverse": true, "nice": false, "zero": false}, "axis": null}}},
        {"data": {"name": "curves"}, "transform": [{"filter": "datum.panel == 'B3'"}],
         "mark": {"type": "line", "clip": true},
         "encoding": {
           "x": {"field": "r", "type": "quantitative", "scale": {"type": "log", "domain": [3, 100], "nice": false},
                 "axis": {"orient": "bottom", "values": [3,4,5,6,7,8,9,10,20,30,40,50,60,70,80,90,100], "tickSize": {"condition": {"test": "datum.value == 10 || datum.value == 100", "value": -8}, "value": -4}, "labelExpr": "datum.value == 10 || datum.value == 100 ? format(datum.value, 'd') : ''", "title": "r [kpc]", "titleY": 25, "titleBaseline": "middle"}},
           "y": {"field": "g", "type": "quantitative", "scale": {"domain": [0, 2.1], "reverse": true, "nice": false, "zero": false},
                 "axis": {"orient": "left", "values": [0,0.1,0.2,0.3,0.4,0.5,0.6,0.7,0.8,0.9,1,1.1,1.2,1.3,1.4,1.5,1.6,1.7,1.8,1.9,2,2.1], "tickSize": {"condition": {"test": "abs(datum.value*2 - round(datum.value*2)) < 0.001", "value": -8}, "value": -4}, "labelExpr": "abs(datum.value*2 - round(datum.value*2)) < 0.001 ? format(datum.value, '.1f') : ''", "title": "γ=-dlnρ/dlnr", "titleFontSize": 12, "titleX": -28, "titleY": 118, "titleBaseline": "middle", "titleAlign": "center", "titleAngle": 270}},
           "color": {"field": "series", "type": "nominal", "scale": {"domain": ["Total","DM RS09/1","DM RS09/2","DM RS09/3","DM RS09/5","DM RS09 original"], "range": ["#000000","#3434cc","#3ee0cc","#86e03a","#e8702c","#e43c24"]}, "legend": null},
           "strokeDash": {"field": "series", "type": "nominal", "scale": {"domain": ["Total","DM RS09/1","DM RS09/2","DM RS09/3","DM RS09/5","DM RS09 original"], "range": [[1,0],[1,0],[1,0],[1,0],[1,0],[4,3]]}, "legend": null},
           "strokeWidth": {"field": "series", "type": "nominal", "scale": {"domain": ["Total","DM RS09/1","DM RS09/2","DM RS09/3","DM RS09/5","DM RS09 original"], "range": [1.8,1.2,1.2,1.2,1.2,1.3]}, "legend": null}
         }},
        {"data": {"name": "arrows"}, "transform": [{"filter": "datum.panel == 'B3'"}],
         "mark": {"type": "rule", "strokeWidth": 1},
         "encoding": {
           "x": {"field": "r", "type": "quantitative", "scale": {"type": "log", "domain": [3, 100], "nice": false},
                 "axis": {"orient": "top", "values": [3,4,5,6,7,8,9,10,20,30,40,50,60,70,80,90,100], "tickSize": {"condition": {"test": "datum.value == 10 || datum.value == 100", "value": -8}, "value": -4}, "labels": false, "title": null}},
           "y": {"field": "g1", "type": "quantitative", "scale": {"domain": [0, 2.1], "reverse": true, "nice": false, "zero": false},
                 "axis": {"orient": "right", "values": [0,0.1,0.2,0.3,0.4,0.5,0.6,0.7,0.8,0.9,1,1.1,1.2,1.3,1.4,1.5,1.6,1.7,1.8,1.9,2,2.1], "tickSize": {"condition": {"test": "abs(datum.value*2 - round(datum.value*2)) < 0.001", "value": -8}, "value": -4}, "labels": false, "title": null}},
           "y2": {"field": "g2"},
           "color": {"field": "series", "type": "nominal", "legend": null}
         }},
        {"data": {"name": "arrows"}, "transform": [{"filter": "datum.panel == 'B3'"}],
         "mark": {"type": "point", "filled": true, "size": 28, "opacity": 1},
         "encoding": {
           "x": {"field": "r", "type": "quantitative", "axis": null},
           "y": {"field": "g2", "type": "quantitative", "axis": null},
           "shape": {"field": "head", "type": "nominal", "scale": {"domain": ["up", "down"], "range": ["triangle-up", "triangle-down"]}, "legend": null},
           "color": {"field": "series", "type": "nominal", "legend": null}
         }},
        {"data": {"name": "notes"}, "transform": [{"filter": "datum.panel == 'B3'"}],
         "mark": {"type": "text", "align": "left", "baseline": "middle", "font": "Liberation Mono", "fontSize": 10, "color": "#000"},
         "encoding": {
           "x": {"field": "r", "type": "quantitative", "axis": null},
           "y": {"field": "g", "type": "quantitative", "axis": null},
           "text": {"field": "text"}
         }}
      ]
    },
    {
      "width": 150, "height": 236,
      "resolve": {"axis": {"x": "independent", "y": "independent"}},
      "layer": [
        {"data": {"values": [{}]}, "mark": {"type": "rule", "strokeDash": [1, 2], "color": "#000", "strokeWidth": 1},
         "encoding": {"y": {"datum": 1, "type": "quantitative", "scale": {"domain": [0, 2.1], "reverse": true, "nice": false, "zero": false}, "axis": null}}},
        {"data": {"name": "curves"}, "transform": [{"filter": "datum.panel == 'B0'"}],
         "mark": {"type": "line", "clip": true},
         "encoding": {
           "x": {"field": "r", "type": "quantitative", "scale": {"type": "log", "domain": [3, 550], "nice": false},
                 "axis": {"orient": "bottom", "values": [3,4,5,6,7,8,9,10,20,30,40,50,60,70,80,90,100,200,300,400,500], "tickSize": {"condition": {"test": "datum.value == 10 || datum.value == 100", "value": -8}, "value": -4}, "labelExpr": "datum.value == 10 || datum.value == 100 ? format(datum.value, 'd') : ''", "title": "r [kpc]", "titleY": 25, "titleBaseline": "middle"}},
           "y": {"field": "g", "type": "quantitative", "scale": {"domain": [0, 2.1], "reverse": true, "nice": false, "zero": false},
                 "axis": {"orient": "left", "values": [0,0.1,0.2,0.3,0.4,0.5,0.6,0.7,0.8,0.9,1,1.1,1.2,1.3,1.4,1.5,1.6,1.7,1.8,1.9,2,2.1], "tickSize": {"condition": {"test": "abs(datum.value*2 - round(datum.value*2)) < 0.001", "value": -8}, "value": -4}, "labels": false, "title": null}},
           "color": {"field": "series", "type": "nominal", "scale": {"domain": ["Total","DM RS09/1","DM RS09/2","DM RS09/3","DM RS09/5","DM RS09 original"], "range": ["#000000","#3434cc","#3ee0cc","#86e03a","#e8702c","#e43c24"]}, "legend": null},
           "strokeDash": {"field": "series", "type": "nominal", "scale": {"domain": ["Total","DM RS09/1","DM RS09/2","DM RS09/3","DM RS09/5","DM RS09 original"], "range": [[1,0],[1,0],[1,0],[1,0],[1,0],[4,3]]}, "legend": null},
           "strokeWidth": {"field": "series", "type": "nominal", "scale": {"domain": ["Total","DM RS09/1","DM RS09/2","DM RS09/3","DM RS09/5","DM RS09 original"], "range": [1.8,1.2,1.2,1.2,1.2,1.3]}, "legend": null}
         }},
        {"data": {"name": "arrows"}, "transform": [{"filter": "datum.panel == 'B0'"}],
         "mark": {"type": "rule", "strokeWidth": 1},
         "encoding": {
           "x": {"field": "r", "type": "quantitative", "scale": {"type": "log", "domain": [3, 550], "nice": false},
                 "axis": {"orient": "top", "values": [3,4,5,6,7,8,9,10,20,30,40,50,60,70,80,90,100,200,300,400,500], "tickSize": {"condition": {"test": "datum.value == 10 || datum.value == 100", "value": -8}, "value": -4}, "labels": false, "title": null}},
           "y": {"field": "g1", "type": "quantitative", "scale": {"domain": [0, 2.1], "reverse": true, "nice": false, "zero": false},
                 "axis": {"orient": "right", "values": [0,0.1,0.2,0.3,0.4,0.5,0.6,0.7,0.8,0.9,1,1.1,1.2,1.3,1.4,1.5,1.6,1.7,1.8,1.9,2,2.1], "tickSize": {"condition": {"test": "abs(datum.value*2 - round(datum.value*2)) < 0.001", "value": -8}, "value": -4}, "labels": false, "title": null}},
           "y2": {"field": "g2"},
           "color": {"field": "series", "type": "nominal", "legend": null}
         }},
        {"data": {"name": "arrows"}, "transform": [{"filter": "datum.panel == 'B0'"}],
         "mark": {"type": "point", "filled": true, "size": 28, "opacity": 1},
         "encoding": {
           "x": {"field": "r", "type": "quantitative", "axis": null},
           "y": {"field": "g2", "type": "quantitative", "axis": null},
           "shape": {"field": "head", "type": "nominal", "scale": {"domain": ["up", "down"], "range": ["triangle-up", "triangle-down"]}, "legend": null},
           "color": {"field": "series", "type": "nominal", "legend": null}
         }},
        {"data": {"name": "notes"}, "transform": [{"filter": "datum.panel == 'B0'"}],
         "mark": {"type": "text", "align": "left", "baseline": "middle", "font": "Liberation Mono", "fontSize": 10, "color": "#000"},
         "encoding": {
           "x": {"field": "r", "type": "quantitative", "axis": null},
           "y": {"field": "g", "type": "quantitative", "axis": null},
           "text": {"field": "text"}
         }}
      ]
    }
  ]
}
